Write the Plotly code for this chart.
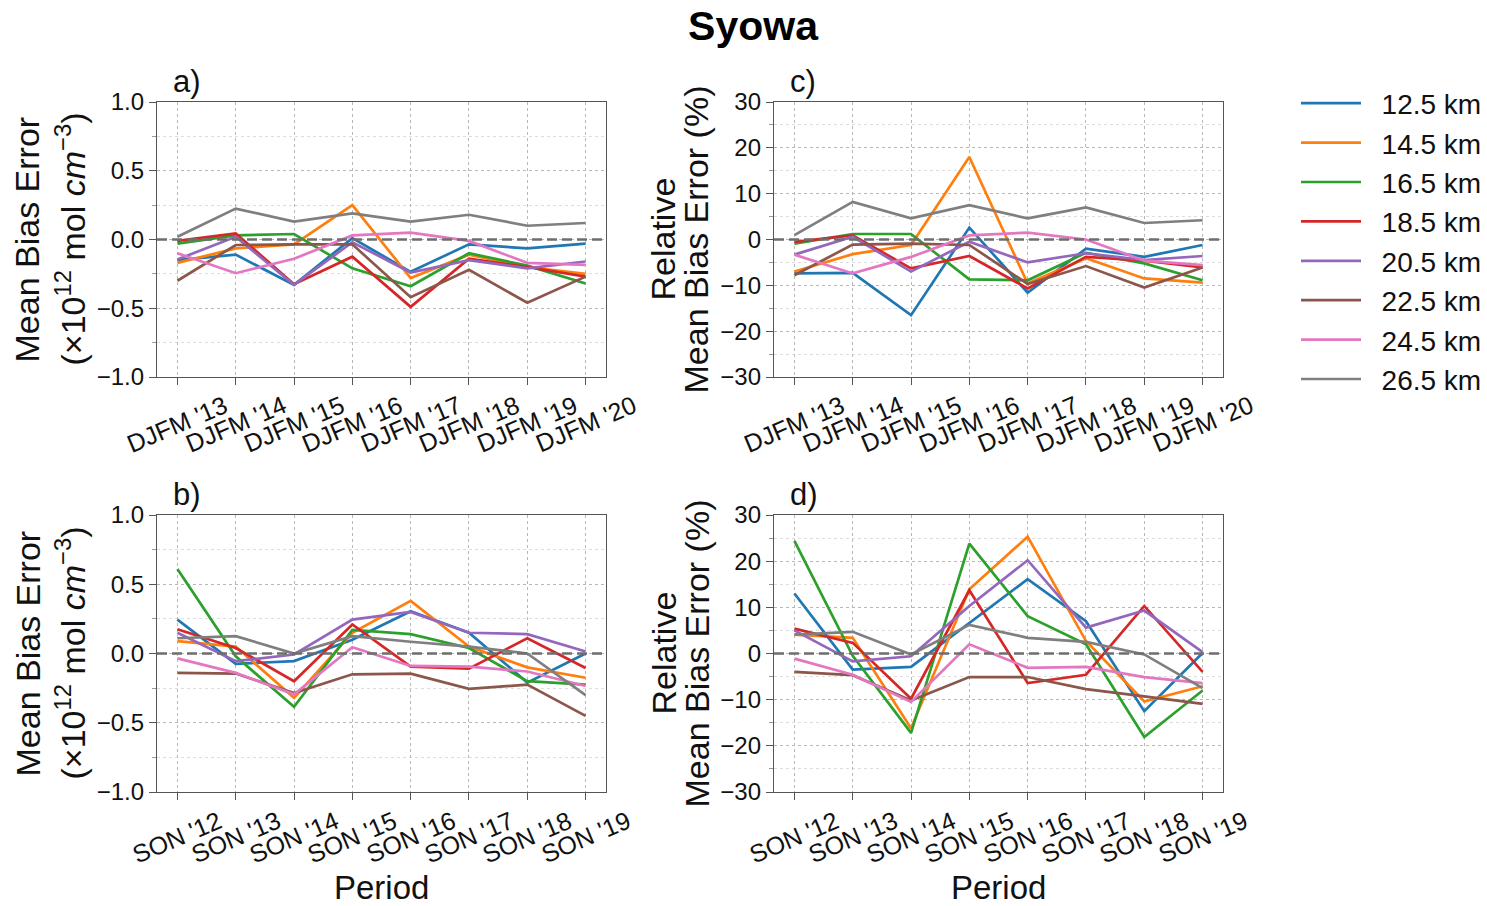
import plotly.graph_objects as go
from plotly.subplots import make_subplots

# ---------------- data ----------------
periods_djfm = ["DJFM '13", "DJFM '14", "DJFM '15", "DJFM '16", "DJFM '17", "DJFM '18", "DJFM '19", "DJFM '20"]
periods_son = ["SON '12", "SON '13", "SON '14", "SON '15", "SON '16", "SON '17", "SON '18", "SON '19"]
altitudes = ["12.5 km", "14.5 km", "16.5 km", "18.5 km", "20.5 km", "22.5 km", "24.5 km", "26.5 km"]

# a) Mean bias error, DJFM (x1e12 mol cm-3)
mbe_djfm_125 = [-0.15, -0.11, -0.33, 0.01, -0.235, -0.035, -0.065, -0.03]
mbe_djfm_145 = [-0.17, -0.065, -0.035, 0.25, -0.28, -0.11, -0.20, -0.25]
mbe_djfm_165 = [-0.03, 0.03, 0.04, -0.21, -0.34, -0.10, -0.19, -0.32]
mbe_djfm_185 = [-0.01, 0.045, -0.325, -0.125, -0.49, -0.14, -0.20, -0.27]
mbe_djfm_205 = [-0.145, 0.02, -0.33, -0.02, -0.24, -0.15, -0.21, -0.16]
mbe_djfm_225 = [-0.30, -0.04, -0.035, -0.035, -0.42, -0.22, -0.46, -0.27]
mbe_djfm_245 = [-0.10, -0.245, -0.14, 0.03, 0.05, -0.01, -0.17, -0.185]
mbe_djfm_265 = [0.02, 0.225, 0.13, 0.19, 0.13, 0.18, 0.10, 0.12]

# b) Mean bias error, SON
mbe_son_125 = [0.245, -0.075, -0.055, 0.10, 0.305, 0.15, -0.21, 0.0]
mbe_son_145 = [0.09, 0.05, -0.32, 0.15, 0.38, 0.05, -0.10, -0.175]
mbe_son_165 = [0.61, -0.02, -0.385, 0.17, 0.14, 0.04, -0.20, -0.225]
mbe_son_185 = [0.175, 0.04, -0.20, 0.21, -0.095, -0.11, 0.11, -0.105]
mbe_son_205 = [0.15, -0.055, -0.007, 0.245, 0.30, 0.15, 0.14, 0.015]
mbe_son_225 = [-0.14, -0.145, -0.285, -0.15, -0.145, -0.255, -0.225, -0.45]
mbe_son_245 = [-0.035, -0.14, -0.295, 0.045, -0.09, -0.095, -0.13, -0.235]
mbe_son_265 = [0.11, 0.125, 0.0, 0.125, 0.085, 0.05, 0.0, -0.30]

# c) Relative mean bias error, DJFM (%)
rel_djfm_125 = [-7.4, -7.3, -16.5, 2.6, -11.6, -2.0, -3.8, -1.2]
rel_djfm_145 = [-7.0, -3.2, -1.2, 18.0, -9.6, -4.1, -8.5, -9.4]
rel_djfm_165 = [-0.9, 1.2, 1.2, -8.7, -8.9, -2.9, -5.2, -8.9]
rel_djfm_185 = [-0.5, 0.9, -6.3, -3.6, -10.7, -3.8, -4.6, -6.1]
rel_djfm_205 = [-3.3, 0.6, -7.0, -0.5, -5.0, -3.0, -4.5, -3.6]
rel_djfm_225 = [-7.8, -1.1, -0.9, -1.2, -9.7, -5.8, -10.5, -6.1]
rel_djfm_245 = [-3.3, -7.4, -3.8, 0.9, 1.5, 0.0, -4.6, -5.6]
rel_djfm_265 = [0.95, 8.2, 4.6, 7.5, 4.6, 7.0, 3.6, 4.2]

# d) Relative mean bias error, SON (%)
rel_son_125 = [13.0, -3.5, -2.9, 6.7, 16.1, 7.0, -12.5, 0.1]
rel_son_145 = [4.1, 3.4, -16.2, 13.9, 25.3, 2.7, -10.4, -7.1]
rel_son_165 = [24.4, -0.5, -17.2, 23.8, 8.1, 2.0, -18.1, -8.0]
rel_son_185 = [5.4, 2.3, -9.8, 13.7, -6.4, -4.6, 10.3, -4.0]
rel_son_205 = [5.0, -1.7, -0.6, 10.3, 20.2, 5.6, 9.3, 0.3]
rel_son_225 = [-4.0, -4.7, -10.2, -5.1, -5.1, -7.7, -9.3, -10.9]
rel_son_245 = [-1.1, -4.6, -10.5, 2.0, -3.1, -2.9, -5.1, -6.4]
rel_son_265 = [4.1, 4.7, -0.2, 6.2, 3.4, 2.5, -0.2, -7.5]

mbe_ticks = [-1.0, -0.5, 0.0, 0.5, 1.0]
mbe_ticktext = ["\u22121.0", "\u22120.5", "0.0", "0.5", "1.0"]
rel_ticks = [-30, -20, -10, 0, 10, 20, 30]
rel_ticktext = ["\u221230", "\u221220", "\u221210", "0", "10", "20", "30"]

colors = ["#1f77b4", "#ff7f0e", "#2ca02c", "#d62728", "#9467bd", "#8c564b", "#e377c2", "#7f7f7f"]

panels = [
    (1, 1, periods_djfm, [mbe_djfm_125, mbe_djfm_145, mbe_djfm_165, mbe_djfm_185,
                          mbe_djfm_205, mbe_djfm_225, mbe_djfm_245, mbe_djfm_265]),
    (2, 1, periods_son, [mbe_son_125, mbe_son_145, mbe_son_165, mbe_son_185,
                         mbe_son_205, mbe_son_225, mbe_son_245, mbe_son_265]),
    (1, 2, periods_djfm, [rel_djfm_125, rel_djfm_145, rel_djfm_165, rel_djfm_185,
                          rel_djfm_205, rel_djfm_225, rel_djfm_245, rel_djfm_265]),
    (2, 2, periods_son, [rel_son_125, rel_son_145, rel_son_165, rel_son_185,
                         rel_son_205, rel_son_225, rel_son_245, rel_son_265]),
]

# ---------------- layout geometry (pixels of a 1487 x 906 page) ----------------
W, H = 1487, 906
FONT = "Liberation Sans, Arial, Helvetica, sans-serif"
col_px = {1: (157, 606), 2: (774, 1223)}
row_px = {1: (102, 377), 2: (515, 792)}


def px_x(p):
    return p / W


def px_y(p):
    return 1 - p / H


fig = make_subplots(rows=2, cols=2)

for (r, c, periods, series) in panels:
    idx = list(range(len(periods)))
    for k, vals in enumerate(series):
        fig.add_trace(
            go.Scatter(
                x=idx, y=vals, mode="lines", name="\u00a0\u00a0" + altitudes[k],
                line=dict(color=colors[k], width=2.7),
                showlegend=(r == 1 and c == 1),
                hoverinfo="skip",
            ),
            row=r, col=c,
        )

grid_major = "#b8b8b8"
grid_minor = "#dddddd"
axis_col = "#555555"

for (r, c, periods, series) in panels:
    x0, x1 = col_px[c]
    yt, yb = row_px[r]
    fig.update_xaxes(
        domain=[px_x(x0), px_x(x1)], range=[-0.35, 7.35], automargin=False,
        tickmode="array", tickvals=list(range(len(periods))), showticklabels=False,
        ticks="outside", ticklen=7, tickwidth=1.2, tickcolor=axis_col,
        showgrid=True, gridcolor=grid_major, griddash="3px,3px", gridwidth=1,
        showline=True, mirror=True, linecolor=axis_col, linewidth=1.3,
        zeroline=False, row=r, col=c,
    )
    if c == 1:
        yr, tv, tt, md = [-1, 1], mbe_ticks, mbe_ticktext, 0.25
    else:
        yr, tv, tt, md = [-30, 30], rel_ticks, rel_ticktext, 5
    fig.update_yaxes(
        domain=[px_y(yb), px_y(yt)], range=yr, automargin=False,
        tickmode="array", tickvals=tv, ticktext=tt,
        tickfont=dict(family=FONT, size=24, color="#111"),
        ticks="outside", ticklen=7, tickwidth=1.2, tickcolor=axis_col,
        showgrid=True, gridcolor=grid_major, griddash="3px,3px", gridwidth=1,
        minor=dict(dtick=md, tick0=0, showgrid=True, gridcolor=grid_minor,
                   griddash="3px,3px", ticks="outside", ticklen=4, tickcolor="#999"),
        showline=True, mirror=True, linecolor=axis_col, linewidth=1.3,
        zeroline=False, row=r, col=c,
    )

# zero reference lines
axis_names = {(1, 1): ("x", "y"), (1, 2): ("x2", "y2"), (2, 1): ("x3", "y3"), (2, 2): ("x4", "y4")}
for (r, c), (xa, ya) in axis_names.items():
    fig.add_shape(type="line", xref=f"{xa} domain", yref=ya, x0=0, x1=1, y0=0, y1=0,
                  line=dict(color="#6e6e6e", width=2.6, dash="10px,5px"), layer="above")

ann = []
# x tick labels (centred, rotated)
for (r, c, periods, series) in panels:
    xa, ya = axis_names[(r, c)]
    yb = row_px[r][1]
    for i, lab in enumerate(periods):
        ann.append(dict(text=lab, x=i, xref=xa, y=px_y(yb), yref="paper",
                        xanchor="center", yanchor="top", yshift=-11, textangle=-23,
                        showarrow=False, font=dict(family=FONT, size=25, color="#111")))

# panel labels
for (r, c), lab in {(1, 1): "a)", (2, 1): "b)", (1, 2): "c)", (2, 2): "d)"}.items():
    ann.append(dict(text=lab, x=px_x(col_px[c][0] + 14), xref="paper",
                    y=px_y(row_px[r][0]), yref="paper", xanchor="left", yanchor="bottom",
                    yshift=1, showarrow=False, font=dict(family=FONT, size=31, color="#111")))

# y axis titles
for r in (1, 2):
    yc = px_y((row_px[r][0] + row_px[r][1]) / 2)
    ann.append(dict(text="Mean Bias Error", x=px_x(27), xref="paper", y=yc, yref="paper",
                    textangle=-90, xanchor="center", yanchor="middle", showarrow=False,
                    font=dict(family=FONT, size=34, color="#111")))
    ann.append(dict(text="(\u00d710<sup>12</sup> mol <i>cm</i><sup>\u22123</sup>)",
                    x=px_x(70), xref="paper", y=yc, yref="paper",
                    textangle=-90, xanchor="center", yanchor="middle", showarrow=False,
                    font=dict(family=FONT, size=34, color="#111")))
    ann.append(dict(text="Relative", x=px_x(663), xref="paper", y=yc, yref="paper",
                    textangle=-90, xanchor="center", yanchor="middle", showarrow=False,
                    font=dict(family=FONT, size=34, color="#111")))
    ann.append(dict(text="Mean Bias Error (%)", x=px_x(696), xref="paper", y=yc, yref="paper",
                    textangle=-90, xanchor="center", yanchor="middle", showarrow=False,
                    font=dict(family=FONT, size=34, color="#111")))

# x axis titles
for c in (1, 2):
    xc = px_x(sum(col_px[c]) / 2)
    ann.append(dict(text="Period", x=xc, xref="paper", y=px_y(887), yref="paper",
                    xanchor="center", yanchor="middle", showarrow=False,
                    font=dict(family=FONT, size=33, color="#111")))

fig.update_layout(
    width=W, height=H,
    margin=dict(l=0, r=0, t=0, b=0, autoexpand=False),
    paper_bgcolor="white", plot_bgcolor="white",
    font=dict(family=FONT, color="#111"),
    title=dict(text="Syowa", x=px_x(753), xanchor="center", y=px_y(26), yanchor="middle",
               yref="container", font=dict(family=FONT, size=41, color="#000", weight=700)),
    legend=dict(x=px_x(1296), y=px_y(78.5), xanchor="left", yanchor="top",
                font=dict(family=FONT, size=28, color="#111"),
                itemwidth=60, bgcolor="rgba(255,255,255,0)"),
    annotations=ann,
    showlegend=True,
)

fig.write_html("out.html", post_script="document.body.style.margin='0';",
               config={"displayModeBar": False})
